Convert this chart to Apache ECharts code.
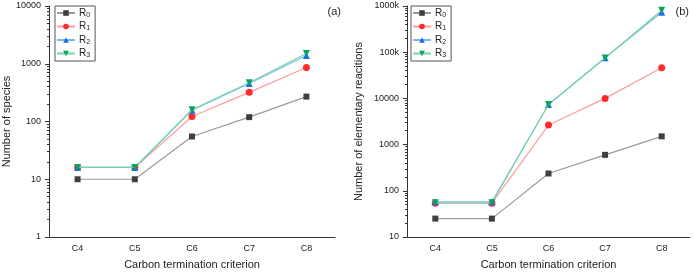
<!DOCTYPE html>
<html>
<head>
<meta charset="utf-8">
<script src="https://cdn.jsdelivr.net/npm/echarts@6/dist/echarts.min.js"></script>
<style>
  html, body { margin: 0; padding: 0; background: #fff; }
  #main { width: 694px; height: 272px; }
</style>
</head>
<body>
<div id="main"></div>
<script>
  var categories = ['C4', 'C5', 'C6', 'C7', 'C8'];

  // (a) number of species
  var speciesR0 = [10, 10, 55, 119, 270];
  var speciesR1 = [16, 16, 122, 320, 860];
  var speciesR2 = [16, 16, 157, 455, 1390];
  var speciesR3 = [16, 16, 160, 470, 1500];

  // (b) number of elementary reactions
  var reactR0 = [25, 25, 237, 600, 1510];
  var reactR1 = [54, 54, 2650, 10000, 46000];
  var reactR2 = [58, 58, 7400, 76000, 730000];
  var reactR3 = [55, 55, 7400, 75000, 810000];

  var seriesNames = ['R0', 'R1', 'R2', 'R3'];

  var fontFamily = 'Liberation Sans, Arial, sans-serif';
  var lineColors = ['#9a9a9a', '#ff9c9c', '#7fb6f2', '#72d6a8'];
  var dotColors = ['#3f3f3f', '#ff2b2b', '#1b6ee6', '#0aa35c'];
  var symbols = ['rect', 'circle', 'triangle', 'triangle'];
  var rotates = [0, 0, 0, 180];

  // minor ticks of a log axis, as exponents, for a linear helper axis
  function minorExp(fromDec, toDec) {
    var out = [];
    for (var d = fromDec; d < toDec; d++) {
      for (var k = 2; k <= 9; k++) {
        out.push(d + Math.log10(k));
      }
    }
    return out;
  }

  function kFormat(v) {
    if (v >= 100000) return (v / 1000) + 'k';
    return String(v);
  }

  var chart = echarts.init(document.getElementById('main'));

  function makeSeries(data, i, gridIdx) {
    return {
      name: seriesNames[i],
      type: 'line',
      xAxisIndex: gridIdx * 2,
      yAxisIndex: gridIdx * 2,
      data: data,
      symbol: symbols[i],
      symbolRotate: rotates[i],
      symbolSize: i === 0 ? 6 : 7,
      z: 2 + i,
      lineStyle: { color: lineColors[i], width: 1.2 },
      itemStyle: { color: dotColors[i] },
      emphasis: { disabled: true },
      animation: false
    };
  }

  function xAxes(gridIdx) {
    return [{
      type: 'category',
      gridIndex: gridIdx,
      data: categories,
      name: 'Carbon termination criterion',
      nameLocation: 'middle',
      nameGap: 22,
      nameTextStyle: { fontSize: 11, color: '#222', fontFamily: fontFamily },
      axisLine: { lineStyle: { color: '#333', width: 1 } },
      axisTick: { alignWithLabel: true, length: 4, lineStyle: { color: '#333' } },
      axisLabel: { fontSize: 9, color: '#222', margin: 7, fontFamily: fontFamily },
      splitLine: { show: false }
    }, {
      type: 'category',
      gridIndex: gridIdx,
      data: categories,
      position: 'bottom',
      axisLine: { show: false },
      axisTick: { length: 2, lineStyle: { color: '#333' } },
      axisLabel: { show: false },
      splitLine: { show: false }
    }];
  }

  function yAxes(gridIdx, name, minV, maxV, decFrom, decTo, gap, fmt) {
    return [{
      type: 'log',
      logBase: 10,
      gridIndex: gridIdx,
      min: minV,
      max: maxV,
      splitNumber: decTo - decFrom,
      name: name,
      nameLocation: 'middle',
      nameGap: gap,
      nameTextStyle: { fontSize: 11, color: '#222', fontFamily: fontFamily },
      axisLine: { show: true, lineStyle: { color: '#333', width: 1 } },
      axisTick: { show: true, length: 4, lineStyle: { color: '#333' } },
      axisLabel: { fontSize: 9, color: '#222', margin: 8, fontFamily: fontFamily, formatter: fmt },
      splitLine: { show: false }
    }, {
      type: 'value',
      gridIndex: gridIdx,
      min: decFrom,
      max: decTo,
      position: 'left',
      axisLine: { show: false },
      axisTick: { show: true, length: 2, customValues: minorExp(decFrom, decTo), lineStyle: { color: '#333' } },
      axisLabel: { show: false },
      splitLine: { show: false }
    }];
  }

  function legendFmt(name) {
    return '{n|R}{s|' + name.slice(1) + '}';
  }

  function makeLegend(left) {
    return {
      orient: 'vertical',
      left: left,
      top: 6,
      data: seriesNames,
      itemWidth: 18,
      itemHeight: 7,
      itemGap: 3,
      padding: [2, 5, 2, 1],
      borderColor: '#555',
      borderWidth: 1,
      selectedMode: false,
      formatter: legendFmt,
      textStyle: {
        fontFamily: fontFamily,
        color: '#222',
        padding: [0, 0, 0, -1],
        rich: {
          n: { fontSize: 10, fontFamily: fontFamily, color: '#222' },
          s: { fontSize: 7, fontFamily: fontFamily, color: '#222', padding: [4, 0, 0, 0] }
        }
      }
    };
  }

  var allSpecies = [speciesR0, speciesR1, speciesR2, speciesR3];
  var allReact = [reactR0, reactR1, reactR2, reactR3];
  var series = [];
  allSpecies.forEach(function (d, i) { series.push(makeSeries(d, i, 0)); });
  allReact.forEach(function (d, i) { series.push(makeSeries(d, i, 1)); });

  var option = {
    backgroundColor: '#ffffff',
    animation: false,
    textStyle: { fontFamily: fontFamily },
    title: [
      { text: '(a)', right: 694 - 346, top: 1, textStyle: { fontSize: 11, fontWeight: 'normal', color: '#222' } },
      { text: '(b)', right: 0, top: 1, textStyle: { fontSize: 11, fontWeight: 'normal', color: '#222' } }
    ],
    grid: [
      { left: 49, top: 6, width: 286, height: 231, containLabel: false, outerBoundsMode: 'none' },
      { left: 407, top: 6, width: 283, height: 231, containLabel: false, outerBoundsMode: 'none' }
    ],
    legend: [makeLegend(55), makeLegend(411)],
    xAxis: xAxes(0).concat(xAxes(1)),
    yAxis: yAxes(0, 'Number of species', 1, 10000, 0, 4, 36, kFormat)
      .concat(yAxes(1, 'Number of elementary reacitions', 10, 1000000, 1, 6, 43, kFormat)),
    series: series
  };

  chart.setOption(option);
</script>
</body>
</html>
